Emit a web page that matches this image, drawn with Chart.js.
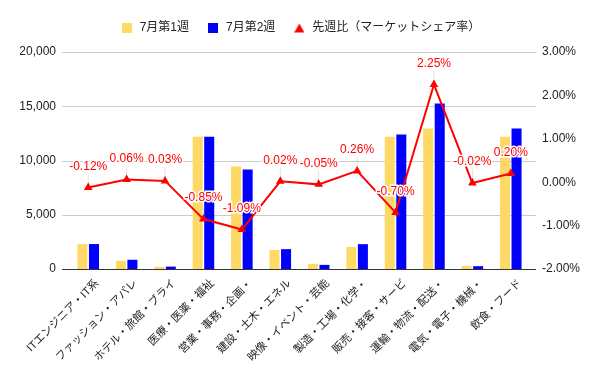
<!DOCTYPE html>
<html>
<head>
    <script src="https://cdn.jsdelivr.net/npm/chart.js"></script>
    <style>
        html, body { margin: 0; background: #fff; }
        .container { width: 600px; height: 371px; }
    </style>
</head>
<body>
<div class="container"><canvas id="myChart"></canvas></div>
<script>
    const categories = [
        'ITエンジニア・IT系', 'ファッション・アパレ', 'ホテル・旅館・ブライ', '医療・医薬・福祉',
        '営業・事務・企画・', '建設・土木・エネル', '映像・イベント・芸能', '製造・工場・化学・',
        '販売・接客・サービ', '運輸・物流・配送・', '電気・電子・機械・', '飲食・フード'
    ];
    const week1 = [2300, 750, 200, 12200, 9450, 1750, 480, 2030, 12200, 12950, 300, 12200];
    const week2 = [2300, 850, 220, 12200, 9170, 1830, 380, 2290, 12400, 15260, 260, 12950];
    const shareChange = [-0.12, 0.06, 0.03, -0.85, -1.09, 0.02, -0.05, 0.26, -0.70, 2.25, -0.02, 0.20];
    const leftTicks = [0, 5000, 10000, 15000, 20000];
    const rightTicks = [-2, -1, 0, 1, 2, 3];

    const font = "'Liberation Sans', Arial, 'Noto Sans CJK JP', sans-serif";
    const textColor = '#222';

    // small legend markers
    function marker(kind, color) {
        const c = document.createElement('canvas');
        c.width = 10;
        c.height = 10;
        const g = c.getContext('2d');
        g.fillStyle = color;
        if (kind === 'tri') {
            g.beginPath();
            g.moveTo(5, 0.5);
            g.lineTo(10, 9.5);
            g.lineTo(0, 9.5);
            g.closePath();
            g.fill();
        } else {
            g.fillRect(0, 0, 10, 10);
        }
        return c;
    }
    const markers = [marker('rect', '#ffd966'), marker('rect', '#0000ff'), marker('tri', '#ff0000')];

    // gridlines run a little past the bars, like the original
    const gridLines = {
        id: 'gridLines',
        beforeDatasetsDraw(chart) {
            const { ctx, chartArea } = chart;
            const y = chart.scales.y;
            ctx.save();
            ctx.lineWidth = 1;
            leftTicks.forEach(v => {
                const py = Math.round(y.getPixelForValue(v)) + 0.5;
                ctx.strokeStyle = v === 0 ? '#333' : '#ccc';
                ctx.beginPath();
                ctx.moveTo(chartArea.left - 7, py);
                ctx.lineTo(chartArea.right + 6, py);
                ctx.stroke();
            });
            ctx.restore();
        }
    };

    // red % labels above the line points
    const pointLabels = {
        id: 'pointLabels',
        afterDatasetsDraw(chart) {
            const ctx = chart.ctx;
            const meta = chart.getDatasetMeta(2);
            ctx.save();
            ctx.font = '12px ' + font;
            ctx.textAlign = 'center';
            ctx.textBaseline = 'middle';
            meta.data.forEach((pt, i) => {
                const txt = shareChange[i].toFixed(2) + '%';
                const y = pt.y - 21;
                ctx.strokeStyle = 'rgba(0,0,0,0.12)';
                ctx.lineWidth = 1;
                ctx.beginPath();
                ctx.moveTo(pt.x, y + 7);
                ctx.lineTo(pt.x, pt.y - 3);
                ctx.stroke();
                ctx.lineWidth = 3;
                ctx.strokeStyle = '#fff';
                ctx.strokeText(txt, pt.x, y);
                ctx.fillStyle = '#f00';
                ctx.fillText(txt, pt.x, y);
            });
            ctx.restore();
        }
    };

    const legendGap = {
        id: 'legendGap',
        beforeInit(chart) {
            const fit = chart.legend.fit;
            chart.legend.fit = function () {
                fit.call(this);
                this.height += 8;
            };
        }
    };

    const ctx = document.getElementById('myChart').getContext('2d');
    const chart = new Chart(ctx, {
        type: 'bar',
        data: {
            labels: categories,
            datasets: [
                {
                    label: '7月第1週',
                    data: week1,
                    backgroundColor: '#ffd966',
                    yAxisID: 'y',
                    order: 2
                },
                {
                    label: '7月第2週',
                    data: week2,
                    backgroundColor: '#0000ff',
                    yAxisID: 'y',
                    order: 2
                },
                {
                    type: 'line',
                    label: '先週比（マーケットシェア率）',
                    data: shareChange,
                    borderColor: '#f00',
                    backgroundColor: '#f00',
                    borderWidth: 2,
                    pointStyle: 'triangle',
                    pointRadius: 3,
                    tension: 0,
                    yAxisID: 'y1',
                    order: 1
                }
            ]
        },
        options: {
            responsive: true,
            maintainAspectRatio: false,
            animation: false,
            layout: { padding: { top: 5, left: 0, right: 0, bottom: 0 } },
            datasets: {
                bar: { categoryPercentage: 0.6, barPercentage: 0.87 }
            },
            plugins: {
                legend: {
                    position: 'top',
                    labels: {
                        usePointStyle: true,
                        pointStyleWidth: 14,
                        boxHeight: 10,
                        padding: 17,
                        color: textColor,
                        font: { family: font, size: 12 },
                        sort: (a, b) => a.datasetIndex - b.datasetIndex,
                        generateLabels(chart) {
                            const items = Chart.defaults.plugins.legend.labels.generateLabels(chart);
                            items.forEach(it => { it.pointStyle = markers[it.datasetIndex]; });
                            return items;
                        }
                    }
                },
                tooltip: { enabled: false }
            },
            scales: {
                x: {
                    grid: { display: false, drawTicks: false },
                    border: { display: false },
                    ticks: {
                        autoSkip: false,
                        maxRotation: 45,
                        minRotation: 45,
                        labelOffset: 9,
                        padding: 8,
                        color: textColor,
                        font: { family: font, size: 11 }
                    },
                    afterFit(scale) {
                        scale.height = 102;
                        scale.paddingLeft = 0;
                        scale.paddingRight = 0;
                    }
                },
                y: {
                    position: 'left',
                    min: 0,
                    max: 20000,
                    afterBuildTicks(scale) {
                        scale.ticks = leftTicks.map(v => ({ value: v }));
                    },
                    grid: { display: false, drawTicks: false },
                    border: { display: false },
                    ticks: {
                        padding: 13,
                        color: textColor,
                        font: { family: font, size: 12 },
                        callback: v => v.toLocaleString('en-US')
                    },
                    afterFit(scale) { scale.width = 69; }
                },
                y1: {
                    position: 'right',
                    min: -2,
                    max: 3,
                    afterBuildTicks(scale) {
                        scale.ticks = rightTicks.map(v => ({ value: v }));
                    },
                    grid: { display: false, drawTicks: false },
                    border: { display: false },
                    ticks: {
                        padding: 12,
                        color: textColor,
                        font: { family: font, size: 12 },
                        callback: v => v.toFixed(2) + '%'
                    },
                    afterFit(scale) { scale.width = 70; }
                }
            }
        },
        plugins: [gridLines, pointLabels, legendGap]
    });
</script>
</body>
</html>
